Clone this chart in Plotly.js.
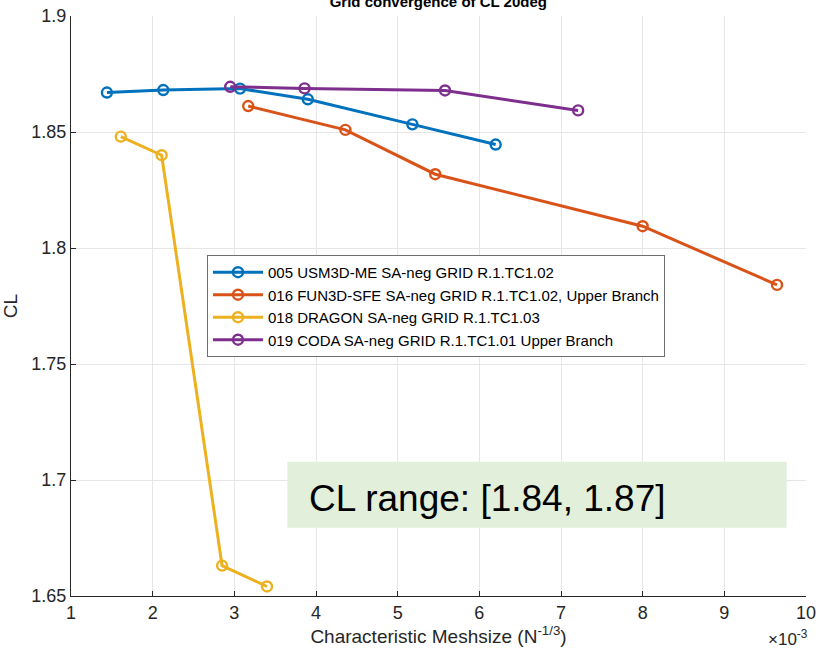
<!DOCTYPE html>
<html>
<head>
<meta charset="utf-8">
<script src="https://cdn.plot.ly/plotly-3.0.1.min.js"></script>
<style>html,body{margin:0;padding:0;background:#fff;}#chart{width:817px;height:654px;}</style>
</head>
<body>
<div id="chart"></div>
<script>
// Series names
const seriesNames = [
  "005 USM3D-ME SA-neg GRID R.1.TC1.02",
  "016 FUN3D-SFE SA-neg GRID R.1.TC1.02, Upper Branch",
  "018 DRAGON SA-neg GRID R.1.TC1.03",
  "019 CODA SA-neg GRID R.1.TC1.01 Upper Branch"
];
// Characteristic meshsize (x 1e-3) and CL values
const usm3dX = [1.44, 2.13, 3.07, 3.90, 5.18, 6.20];
const usm3dY = [1.8670, 1.8681, 1.8687, 1.8641, 1.8533, 1.8446];
const fun3dX = [3.17, 4.36, 5.46, 8.00, 9.645];
const fun3dY = [1.8612, 1.8509, 1.8318, 1.8094, 1.7841];
const dragonX = [1.61, 2.11, 2.85, 3.40];
const dragonY = [1.8480, 1.8400, 1.6631, 1.6541];
const codaX = [2.95, 3.86, 5.58, 7.21];
const codaY = [1.8695, 1.8688, 1.8679, 1.8593];

const xTickVals = [1, 2, 3, 4, 5, 6, 7, 8, 9, 10];
const xTickText = ["1", "2", "3", "4", "5", "6", "7", "8", "9", "10"];
const yTickVals = [1.65, 1.7, 1.75, 1.8, 1.85, 1.9];
const yTickText = ["1.65", "1.7", "1.75", "1.8", "1.85", "1.9"];

const colors = ["#0072BD", "#D95319", "#EDB120", "#7E2F8E"];
const xs = [usm3dX, fun3dX, dragonX, codaX];
const ys = [usm3dY, fun3dY, dragonY, codaY];

const traces = xs.map((x, i) => ({
  type: "scatter",
  mode: "lines+markers",
  name: seriesNames[i],
  x: x,
  y: ys[i],
  line: {color: colors[i], width: 3},
  marker: {symbol: "circle-open", size: 10, color: colors[i], line: {width: 2.4, color: colors[i]}}
}));

const font = "Liberation Sans, Arial, Helvetica, sans-serif";
const axisColor = "#262626";

const layout = {
  width: 817,
  height: 654,
  margin: {l: 71, r: 11, t: 16, b: 58},
  paper_bgcolor: "#ffffff",
  plot_bgcolor: "#ffffff",
  font: {family: font, color: axisColor},
  title: {
    text: "<b>Grid convergence of CL 20deg</b>",
    font: {size: 15, color: "#000000", family: font},
    x: 0.5365, xanchor: "center",
    y: 0.997, yref: "container", yanchor: "middle"
  },
  showlegend: true,
  legend: {
    x: 0.185, y: 0.588, xanchor: "left", yanchor: "top",
    bgcolor: "#ffffff", bordercolor: "#6e6e6e", borderwidth: 1,
    font: {size: 15, color: "#000000", family: font},
    itemwidth: 50, tracegroupgap: 0
  },
  xaxis: {
    range: [1, 10],
    tickvals: xTickVals, ticktext: xTickText,
    ticks: "inside", ticklen: 5, tickcolor: axisColor, tickwidth: 1,
    showline: true, linecolor: axisColor, linewidth: 1, mirror: false,
    showgrid: true, gridcolor: "#e6e6e6", gridwidth: 1, zeroline: false,
    tickfont: {size: 18, color: axisColor, family: font},
    title: {text: "Characteristic Meshsize (N<sup>-1/3</sup>)", font: {size: 19, color: axisColor, family: font}, standoff: 4}
  },
  yaxis: {
    range: [1.65, 1.9],
    tickvals: yTickVals, ticktext: yTickText,
    ticks: "inside", ticklen: 5, tickcolor: axisColor, tickwidth: 1,
    showline: true, linecolor: axisColor, linewidth: 1, mirror: false,
    showgrid: true, gridcolor: "#e6e6e6", gridwidth: 1, zeroline: false,
    tickfont: {size: 18, color: axisColor, family: font},
    title: {text: "CL", font: {size: 19, color: axisColor, family: font}, standoff: 10}
  },
  shapes: [{
    type: "rect", xref: "paper", yref: "paper",
    x0: 0.2943, x1: 0.9737, y0: 0.1178, y1: 0.2316,
    fillcolor: "#e2efda", line: {width: 0}, layer: "above"
  }],
  annotations: [
    {
      xref: "paper", yref: "paper", x: 0.3207, y: 0.168,
      xanchor: "left", yanchor: "middle", showarrow: false,
      text: "CL range: [1.84, 1.87]",
      font: {size: 37, color: "#000000", family: font}
    },
    {
      xref: "paper", yref: "paper", x: 0.975, y: -0.072,
      xanchor: "center", yanchor: "middle", showarrow: false,
      text: "×10<sup>-3</sup>",
      font: {size: 17, color: axisColor, family: font}
    }
  ]
};

Plotly.newPlot("chart", traces, layout, {displayModeBar: false, staticPlot: true});
</script>
</body>
</html>
